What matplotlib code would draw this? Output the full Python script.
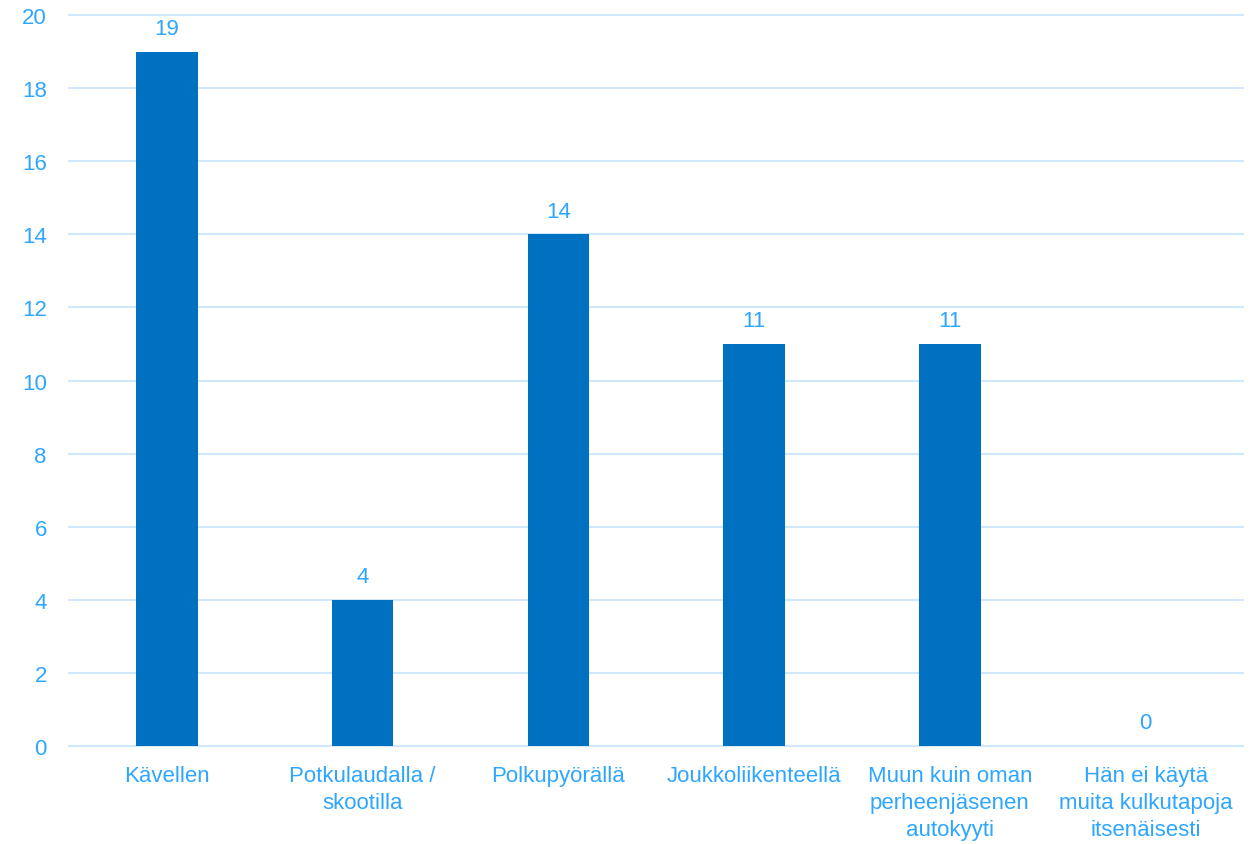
import matplotlib.pyplot as plt

plt.rcParams['font.family'] = ['Liberation Sans', 'DejaVu Sans']

categories = ['Kävellen', 'Potkulaudalla /\nskootilla', 'Polkupyörällä',
              'Joukkoliikenteellä', 'Muun kuin oman\nperheenjäsenen\nautokyyti',
              'Hän ei käytä\nmuita kulkutapoja\nitsenäisesti']
values = [19, 4, 14, 11, 11, 0]
yticks = [0, 2, 4, 6, 8, 10, 12, 14, 16, 18, 20]

bar_color = '#0070C0'
text_color = '#2EA6FF'
grid_color = '#D0E8FA'

fig = plt.figure(figsize=(12.56, 8.45), dpi=100)
ax = fig.add_axes([0.055, 0.116, 0.935, 0.865])

x = range(len(categories))
bars = ax.bar(x, values, width=0.315, color=bar_color, zorder=3)
for xi, v in zip(x, values):
    ax.annotate(str(v), (xi, v), xytext=(0, 9), textcoords='offset points',
                ha='center', va='bottom', color=text_color, fontsize=16)

ax.set_xlim(-0.5, len(categories) - 0.5)
ax.set_ylim(0, 20)
ax.set_yticks(yticks)
ax.set_xticks(list(x))
ax.set_xticklabels(categories, color=text_color, fontsize=16, linespacing=1.35)
ax.tick_params(axis='y', colors=text_color, labelsize=16, length=0, pad=16)
ax.tick_params(axis='x', length=0, pad=14)
ax.yaxis.grid(True, color=grid_color, lw=1.5, zorder=0)
for gl in ax.get_ygridlines():
    gl.set_clip_on(False)
for s in ax.spines.values():
    s.set_visible(False)

fig.savefig('out.png', dpi=100)
